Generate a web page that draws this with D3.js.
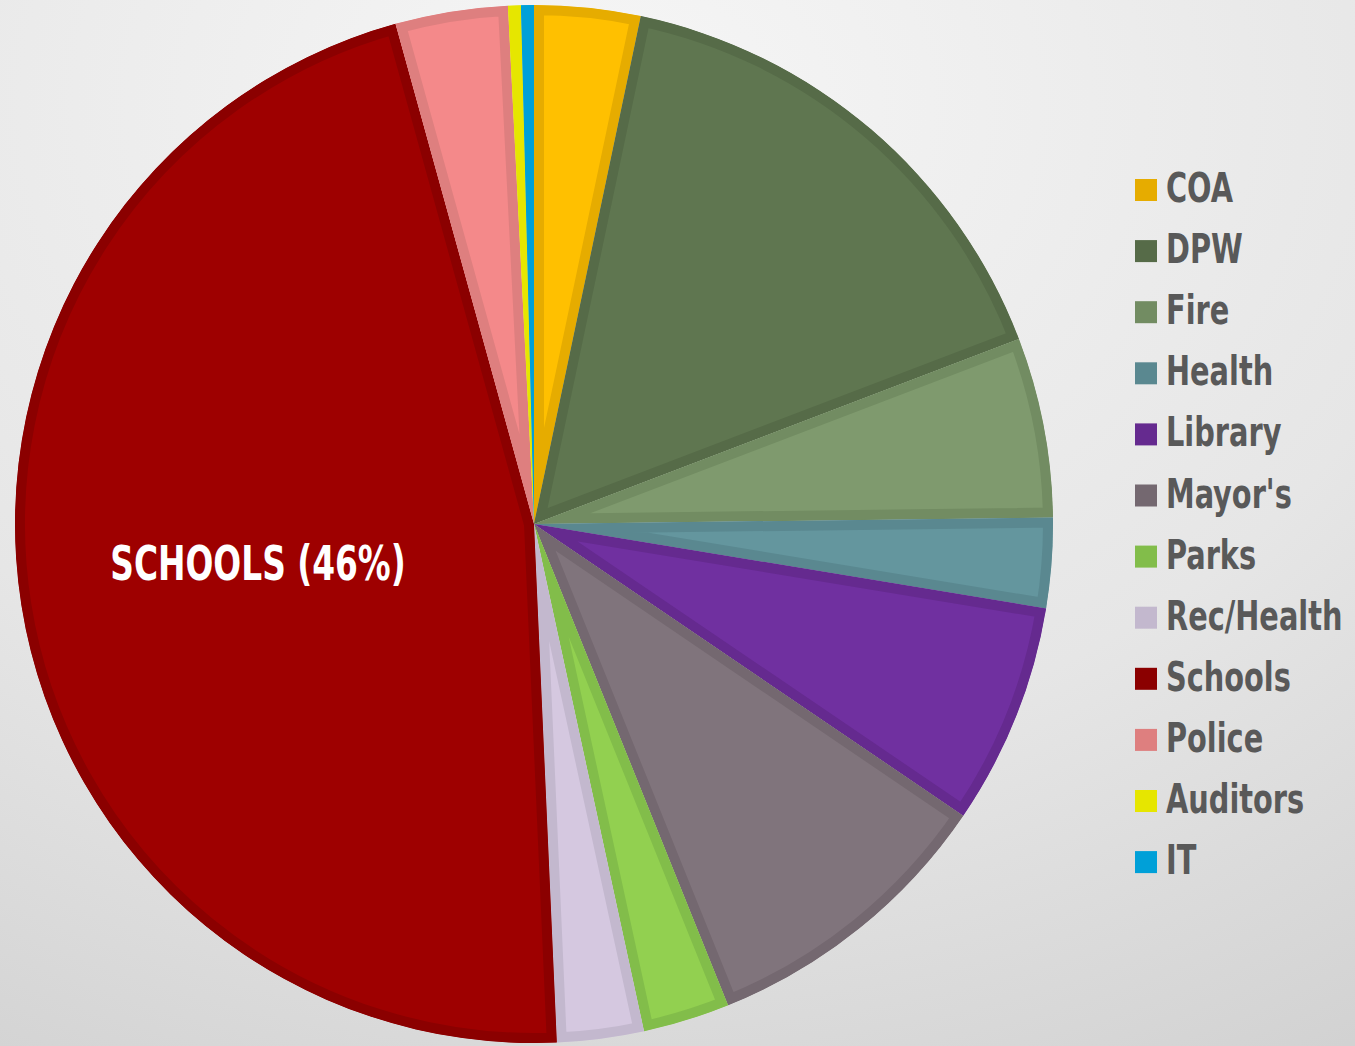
<!DOCTYPE html>
<html>
<head>
<meta charset="utf-8">
<script src="https://cdn.jsdelivr.net/npm/d3@7"></script>
<style>
    html, body { margin: 0; padding: 0; overflow: hidden; }
    text { font-family: "Liberation Sans Narrow", "DejaVu Sans Condensed", "Arial Narrow", sans-serif; font-weight: bold; }
</style>
</head>
<body>
<div id="chart"></div>
<script>
// departments, clockwise from 12 o'clock
var departments = ["COA", "DPW", "Fire", "Health", "Library", "Mayor's", "Parks", "Rec/Health", "Schools", "Police", "Auditors", "IT"];
// share of budget, percent
var shares = [3.3, 15.9, 5.6, 2.8, 6.9, 9.4, 2.7, 2.7, 46.4, 3.5, 0.4, 0.4];
// edge colour (also legend swatch) and inner fill colour
var edgeColors = ["#e6ac00", "#566b48", "#728c62", "#5a8890", "#652a8f", "#746870", "#82bd4a", "#c3b8ce", "#8b0000", "#de7f7f", "#e6e600", "#00a0d8"];
var fillColors = ["#ffc000", "#5f7650", "#7f9a6e", "#64969e", "#7030a0", "#80747c", "#92d050", "#d5c8e0", "#9e0000", "#f4898a", "#e6e600", "#00a0d8"];
var calloutLabel = "SCHOOLS (46%)";

var width = 1355, height = 1046;
var cx = 534, cy = 524, radius = 519;

var svg = d3.select("#chart").append("svg")
    .attr("width", width)
    .attr("height", height);

// background
var defs = svg.append("defs");
var bg = defs.append("radialGradient")
    .attr("id", "bg")
    .attr("cx", "45%").attr("cy", "10%").attr("r", "105%");
bg.append("stop").attr("offset", "0%").attr("stop-color", "#f6f6f6");
bg.append("stop").attr("offset", "60%").attr("stop-color", "#e6e6e6");
bg.append("stop").attr("offset", "100%").attr("stop-color", "#d2d2d2");

svg.append("rect")
    .attr("width", width)
    .attr("height", height)
    .attr("fill", "url(#bg)");

var data = departments.map(function(d, i) {
    return {name: d, value: shares[i], edge: edgeColors[i], fill: fillColors[i]};
});

var pie = d3.pie()
    .sort(null)
    .value(function(d) { return d.value; });

var arc = d3.arc()
    .innerRadius(0)
    .outerRadius(radius);

var arcs = pie(data);

var g = svg.append("g")
    .attr("transform", "translate(" + cx + "," + cy + ")");

// clip each slice to itself so only the inner half of the stroke shows
arcs.forEach(function(d, i) {
    defs.append("clipPath")
        .attr("id", "clip" + i)
        .append("path")
        .attr("d", arc(d));
});

g.selectAll(".slice")
    .data(arcs)
    .enter().append("path")
    .attr("class", "slice")
    .attr("d", arc)
    .attr("clip-path", function(d, i) { return "url(#clip" + i + ")"; })
    .style("fill", function(d) { return d.data.fill; })
    .style("stroke", function(d) { return d.data.edge; })
    .style("stroke-width", 20)
    .style("stroke-linejoin", "miter");

// callout inside the schools slice (squeezed to look like a condensed face)
svg.append("g")
    .attr("transform", "translate(258,580) scale(0.76,1)")
    .append("text")
    .attr("text-anchor", "middle")
    .attr("fill", "#ffffff")
    .style("font-size", "48px")
    .text(calloutLabel);

// legend
var legend = svg.append("g")
    .attr("transform", "translate(1135,179)");

var rows = legend.selectAll(".legend-row")
    .data(data)
    .enter().append("g")
    .attr("class", "legend-row")
    .attr("transform", function(d, i) { return "translate(0," + (i * 61.1) + ")"; });

rows.append("rect")
    .attr("width", 22)
    .attr("height", 22)
    .attr("fill", function(d) { return d.edge; });

rows.append("g")
    .attr("transform", "translate(31,23) scale(0.8,1)")
    .append("text")
    .attr("fill", "#595959")
    .style("font-size", "40px")
    .text(function(d) { return d.name; });
</script>
</body>
</html>
